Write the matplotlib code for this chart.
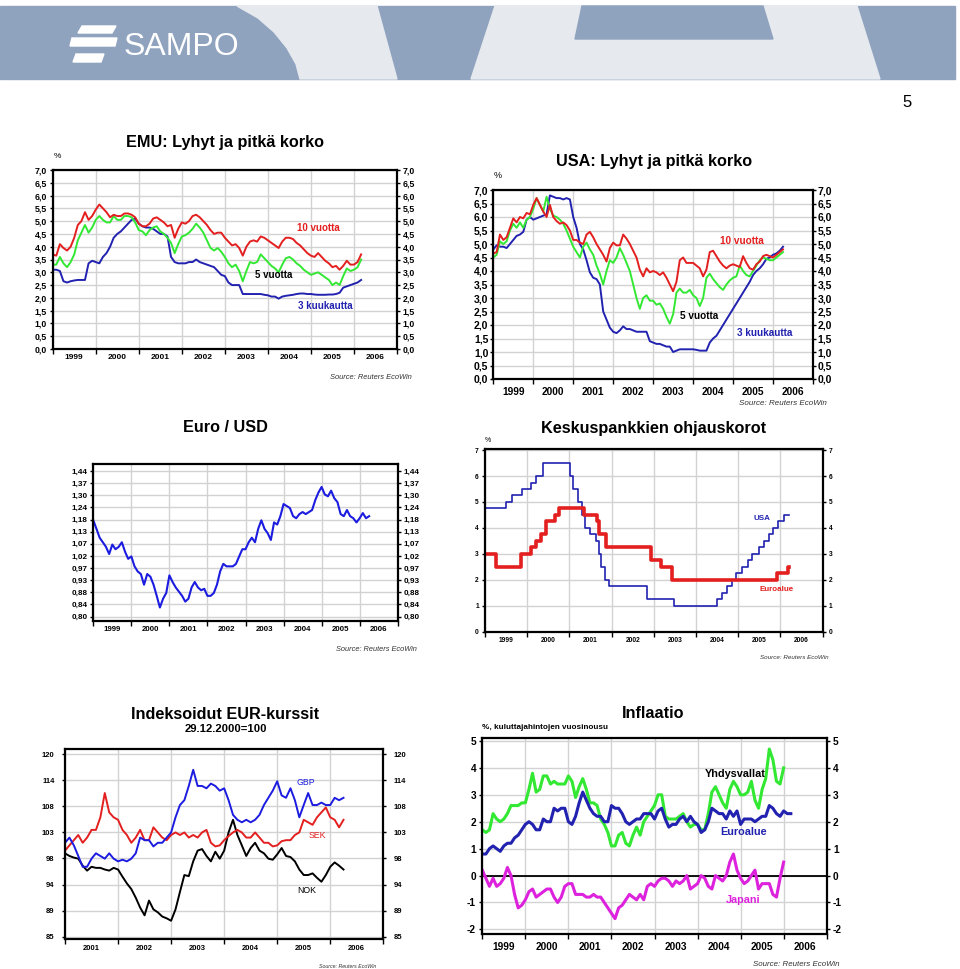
import datetime as dt
import numpy as np
import matplotlib
matplotlib.use("Agg")
import matplotlib.pyplot as plt
from matplotlib.patches import Polygon, Rectangle
from matplotlib.ticker import FixedLocator, FixedFormatter, NullLocator

plt.rcParams['font.family'] = ['Liberation Sans', 'DejaVu Sans']
plt.rcParams['font.weight'] = 'bold'

# ------------------------------------------------------------------ data
# EMU rates, monthly from Jan 1999 (%)
emu_10y = [3.7, 3.65, 4.1, 3.95, 3.85, 4.0, 4.35, 4.85, 5.0, 5.35, 5.05, 5.2,
           5.45, 5.65, 5.5, 5.35, 5.15, 5.25, 5.2, 5.2, 5.3, 5.3, 5.25, 5.15,
           4.9, 4.8, 4.8, 4.9, 5.1, 5.15, 5.05, 4.95, 4.8, 4.85, 4.35, 4.7,
           4.95, 4.9, 5.0, 5.2, 5.25, 5.15, 5.0, 4.85, 4.65, 4.5, 4.55, 4.55,
           4.35, 4.2, 4.05, 4.1, 3.95, 3.65, 4.0, 4.2, 4.25, 4.2, 4.4, 4.35,
           4.25, 4.15, 4.05, 3.95, 4.2, 4.35, 4.35, 4.3, 4.15, 4.05, 3.9, 3.75,
           3.65, 3.6, 3.75, 3.6, 3.45, 3.35, 3.2, 3.25, 3.1, 3.25, 3.45, 3.3,
           3.3, 3.4, 3.7]
emu_5y = [3.3, 3.3, 3.6, 3.35, 3.2, 3.4, 3.7, 4.25, 4.55, 4.85, 4.55, 4.75,
          5.05, 5.2, 5.05, 4.95, 4.95, 5.2, 5.05, 5.05, 5.2, 5.2, 5.15, 4.95,
          4.65, 4.6, 4.45, 4.65, 4.75, 4.8, 4.6, 4.5, 4.35, 4.15, 3.75, 4.1,
          4.4, 4.45, 4.55, 4.7, 4.9, 4.75, 4.55, 4.25, 3.95, 3.85, 3.95, 3.8,
          3.6, 3.35, 3.2, 3.3, 3.05, 2.65, 3.05, 3.4, 3.35, 3.4, 3.7, 3.55,
          3.4, 3.25, 3.15, 3.0, 3.3, 3.55, 3.6, 3.5, 3.35, 3.25, 3.1, 3.0,
          2.9, 2.95, 3.0, 2.9, 2.8, 2.7, 2.5, 2.6, 2.5, 2.85, 3.15, 3.05,
          3.1, 3.2, 3.5]
emu_3m = [3.1, 3.1, 3.05, 2.65, 2.6, 2.65, 2.68, 2.7, 2.7, 2.7, 3.35, 3.45,
          3.4, 3.35, 3.6, 3.75, 4.0, 4.35, 4.5, 4.6, 4.75, 4.9, 5.05, 5.1,
          4.9, 4.8, 4.75, 4.75, 4.7, 4.6, 4.5, 4.5, 4.4, 3.6, 3.4, 3.35,
          3.35, 3.35, 3.4, 3.4, 3.5, 3.4, 3.35, 3.3, 3.25, 3.2, 3.05, 2.9,
          2.85, 2.6, 2.5, 2.5, 2.5, 2.15, 2.15, 2.15, 2.15, 2.15, 2.15, 2.12,
          2.1, 2.05, 2.05, 1.97, 2.05, 2.08, 2.1, 2.12, 2.15, 2.17, 2.17, 2.15,
          2.15, 2.13, 2.12, 2.12, 2.12, 2.13, 2.13, 2.15, 2.2, 2.4, 2.45, 2.5,
          2.55, 2.6, 2.7]

# USA rates, monthly from Jan 1999 (%)
usa_10y = [4.65, 4.7, 5.35, 5.15, 5.25, 5.6, 5.95, 5.8, 6.0, 5.95, 6.15, 6.1,
           6.45, 6.7, 6.45, 6.2, 6.0, 6.45, 6.0, 5.85, 5.75, 5.8, 5.7, 5.5,
           5.15, 5.15, 5.05, 5.0, 5.35, 5.45, 5.25, 5.0, 4.8, 4.6, 4.35, 4.85,
           5.05, 4.95, 4.95, 5.35, 5.2, 5.0, 4.75, 4.5, 4.05, 3.8, 4.1, 3.95,
           4.0, 3.95, 3.85, 3.95, 3.75, 3.5, 3.25, 3.6, 4.4, 4.5, 4.3, 4.3,
           4.3, 4.2, 4.1, 3.8, 4.05, 4.7, 4.75, 4.55, 4.35, 4.2, 4.1, 4.2,
           4.25, 4.2, 4.15, 4.55, 4.3, 4.1, 4.05, 4.25, 4.35, 4.55, 4.6, 4.55,
           4.5, 4.6, 4.7, 4.8]
usa_5y = [4.5, 4.6, 5.1, 5.0, 5.1, 5.5, 5.75, 5.6, 5.8, 5.6, 5.9, 6.0,
          6.3, 6.7, 6.45, 6.2, 6.75, 6.3, 6.05, 6.0, 5.9, 5.75, 5.5, 5.2,
          4.9, 4.7, 4.5, 4.9, 5.05, 4.8, 4.6, 4.2, 3.9, 3.5, 4.0, 4.4,
          4.3, 4.5, 4.85, 4.6, 4.3, 4.0, 3.5, 3.0, 2.6, 3.0, 3.1, 2.9,
          2.9, 2.75, 2.8, 2.6, 2.3, 2.05, 2.4, 3.2, 3.35, 3.2, 3.2, 3.3,
          3.1, 3.0, 2.7, 3.0, 3.75, 3.9, 3.7, 3.55, 3.4, 3.3, 3.5, 3.65,
          3.75, 3.8, 4.2, 4.0, 3.85, 3.8, 4.0, 4.2, 4.4, 4.5, 4.45, 4.4,
          4.4, 4.5, 4.6, 4.7]
usa_3m = [4.8, 4.95, 4.9, 4.9, 4.85, 5.0, 5.15, 5.3, 5.35, 5.45, 5.9, 6.0,
          5.9, 5.95, 6.0, 6.05, 6.1, 6.8, 6.75, 6.7, 6.7, 6.65, 6.7, 6.65,
          6.0, 5.6, 5.0, 4.8, 4.4, 3.95, 3.75, 3.7, 3.5, 2.5, 2.2, 1.9,
          1.75, 1.7, 1.8, 1.95, 1.85, 1.85, 1.8, 1.75, 1.75, 1.75, 1.75, 1.4,
          1.35, 1.3, 1.3, 1.25, 1.2, 1.2, 1.0, 1.05, 1.1, 1.1, 1.1, 1.1,
          1.1, 1.08, 1.05, 1.05, 1.05, 1.35, 1.5, 1.6, 1.8, 2.0, 2.2, 2.4,
          2.6, 2.8, 3.0, 3.2, 3.4, 3.6, 3.85, 4.0, 4.1, 4.25, 4.45, 4.5,
          4.6, 4.65, 4.75, 4.9]

# EUR/USD, monthly from Jan 1999
eurusd = [1.18, 1.14, 1.10, 1.08, 1.06, 1.03, 1.07, 1.05, 1.06, 1.08, 1.04, 1.01,
          1.02, 0.98, 0.96, 0.95, 0.91, 0.95, 0.94, 0.91, 0.87, 0.83, 0.86, 0.88,
          0.945, 0.92, 0.90, 0.885, 0.87, 0.85, 0.86, 0.90, 0.92, 0.90, 0.89, 0.895,
          0.87, 0.87, 0.88, 0.91, 0.96, 0.99, 0.98, 0.98, 0.98, 0.99, 1.02, 1.05,
          1.05, 1.08, 1.10, 1.08, 1.14, 1.18, 1.14, 1.12, 1.09, 1.17, 1.16, 1.20,
          1.26, 1.25, 1.24, 1.20, 1.19, 1.21, 1.22, 1.21, 1.22, 1.23, 1.28, 1.32,
          1.35, 1.31, 1.30, 1.33, 1.29, 1.27, 1.21, 1.20, 1.23, 1.20, 1.19, 1.17,
          1.19, 1.215, 1.19, 1.20]
eurusd_ticklabels = ["0,80", "0,84", "0,88", "0,93", "0,97", "1,02", "1,07",
                     "1,13", "1,18", "1,24", "1,30", "1,37", "1,44"]

# Policy rates (change dates and new levels)
fed_dates = ["1999-01-01", "1999-06-30", "1999-08-24", "1999-11-16", "2000-02-02",
             "2000-03-21", "2000-05-16", "2001-01-03", "2001-01-31", "2001-03-20",
             "2001-04-18", "2001-05-15", "2001-06-27", "2001-08-21", "2001-09-17",
             "2001-10-02", "2001-11-06", "2001-12-11", "2002-11-06", "2003-06-25",
             "2004-06-30", "2004-08-10", "2004-09-21", "2004-11-10", "2004-12-14",
             "2005-02-02", "2005-03-22", "2005-05-03", "2005-06-30", "2005-08-09",
             "2005-09-20", "2005-11-01", "2005-12-13", "2006-01-31", "2006-03-17"]
fed_rate = [4.75, 5.0, 5.25, 5.5, 5.75, 6.0, 6.5, 6.0, 5.5, 5.0, 4.5, 4.0, 3.75,
            3.5, 3.0, 2.5, 2.0, 1.75, 1.25, 1.0, 1.25, 1.5, 1.75, 2.0, 2.25, 2.5,
            2.75, 3.0, 3.25, 3.5, 3.75, 4.0, 4.25, 4.5, 4.5]
ecb_dates = ["1999-01-01", "1999-04-09", "1999-11-05", "2000-02-04", "2000-03-17",
             "2000-04-28", "2000-06-09", "2000-09-01", "2000-10-06", "2001-05-11",
             "2001-08-31", "2001-09-18", "2001-11-09", "2002-12-06", "2003-03-07",
             "2003-06-06", "2005-12-06", "2006-03-08", "2006-03-17"]
ecb_rate = [3.0, 2.5, 3.0, 3.25, 3.5, 3.75, 4.25, 4.5, 4.75, 4.5, 4.25, 3.75, 3.25,
            2.75, 2.5, 2.0, 2.25, 2.5, 2.5]

# Indexed EUR exchange rates, monthly from Jan 2001 (29.12.2000 = 100)
gbp = [101.5, 102.5, 101, 99, 97, 97, 98.5, 99.5, 99, 98.5, 99.5, 98.5,
       98, 98.3, 98, 98.5, 99.5, 102.5, 102, 102, 100.8, 101.5, 101.5, 102.5,
       103.5, 106.5, 109, 110, 113, 116.5, 113, 113, 112.5, 113.5, 113, 112,
       112.5, 110, 107, 106, 105.5, 106, 105.5, 106, 107, 109, 110.5, 112,
       114, 111, 110.5, 112.5, 110, 106.5, 109, 111.5, 109, 109, 109.5, 109,
       109, 110.5, 110, 110.5]
sek = [100, 101, 102, 103, 101.5, 102.5, 104, 104, 106.5, 111.5, 107.5, 106.5,
       106, 104, 103, 101.5, 102.5, 104, 102, 102, 104.5, 103.5, 102.5, 102,
       103, 103.5, 103, 103.5, 102.5, 103, 102.5, 103.5, 104, 101.5, 100.8, 101,
       102, 102.8, 103.5, 104, 103.5, 102.5, 102.5, 103.5, 102.5, 101.5, 101.5, 100.8,
       101, 101.8, 102, 102, 103, 103.5, 106, 105.5, 105, 106.5, 107.5, 108.5,
       106.5, 106, 104.5, 106]
nok = [99.5, 99, 98.7, 98.5, 97.2, 96.3, 97, 96.8, 96.8, 96.5, 96.3, 96.8,
       96.5, 95.2, 94, 93, 91.5, 89.8, 88.5, 91, 89.5, 89, 88.3, 88,
       87.6, 89.5, 92.5, 95.5, 95.3, 98, 100, 100.3, 99, 98, 99.8, 98.5,
       100, 103.5, 106, 103, 101, 99, 100.5, 101.5, 100, 99.5, 98.5, 98.3,
       99.3, 100.5, 99, 98.8, 98, 96.5, 95.5, 95.5, 95.8, 95, 94.3, 95.5,
       97, 97.8, 97.2, 96.5]
index_ticklabels = ["85", "89", "94", "98", "103", "108", "114", "120"]

# Consumer price inflation, % y/y, monthly from Jan 1999
infl_us = [1.7, 1.6, 1.7, 2.3, 2.1, 2.0, 2.1, 2.3, 2.6, 2.6, 2.6, 2.7,
           2.7, 3.2, 3.8, 3.1, 3.2, 3.7, 3.7, 3.4, 3.5, 3.4, 3.4, 3.4,
           3.7, 3.5, 2.9, 3.3, 3.6, 3.2, 2.7, 2.7, 2.6, 2.1, 1.9, 1.6,
           1.1, 1.1, 1.5, 1.6, 1.2, 1.1, 1.5, 1.8, 1.5, 2.0, 2.2, 2.4,
           2.6, 3.0, 3.0, 2.2, 2.1, 2.1, 2.1, 2.2, 2.3, 2.0, 1.8, 1.9,
           1.9, 1.7, 1.7, 2.3, 3.1, 3.3, 3.0, 2.7, 2.5, 3.2, 3.5, 3.3,
           3.0, 3.0, 3.1, 3.5, 2.8, 2.5, 3.2, 3.6, 4.7, 4.3, 3.5, 3.4,
           4.0]
infl_ea = [0.8, 0.8, 1.0, 1.1, 1.0, 0.9, 1.1, 1.2, 1.2, 1.4, 1.5, 1.7,
           1.9, 2.0, 1.9, 1.7, 1.7, 2.1, 2.0, 2.0, 2.5, 2.4, 2.5, 2.5,
           2.0, 1.9, 2.2, 2.7, 3.1, 2.8, 2.5, 2.3, 2.2, 2.2, 2.0, 2.0,
           2.6, 2.5, 2.5, 2.3, 2.0, 1.9, 2.0, 2.1, 2.1, 2.3, 2.3, 2.3,
           2.1, 2.4, 2.5, 2.1, 1.8, 1.9, 1.9, 2.1, 2.2, 2.0, 2.2, 2.0,
           1.9, 1.6, 1.7, 2.0, 2.5, 2.4, 2.3, 2.3, 2.1, 2.4, 2.2, 2.4,
           1.9, 2.1, 2.1, 2.1, 2.0, 2.1, 2.2, 2.2, 2.6, 2.5, 2.3, 2.2,
           2.4, 2.3, 2.3]
infl_jp = [0.2, -0.1, -0.4, -0.1, -0.4, -0.3, -0.1, 0.3, 0.0, -0.7, -1.2, -1.1,
           -0.9, -0.6, -0.5, -0.8, -0.7, -0.6, -0.5, -0.5, -0.8, -1.0, -0.8, -0.4,
           -0.3, -0.3, -0.7, -0.7, -0.7, -0.8, -0.8, -0.7, -0.8, -0.8, -1.0, -1.2,
           -1.4, -1.6, -1.2, -1.1, -0.9, -0.7, -0.8, -0.9, -0.7, -0.9, -0.4, -0.3,
           -0.4, -0.2, -0.1, -0.1, -0.2, -0.4, -0.2, -0.3, -0.2, 0.0, -0.5, -0.4,
           -0.3, 0.0, -0.1, -0.4, -0.5, 0.0, -0.1, -0.2, 0.0, 0.5, 0.8, 0.2,
           -0.1, -0.3, -0.2, 0.0, 0.2, -0.5, -0.3, -0.3, -0.3, -0.7, -0.8, -0.1,
           0.5]

rate_ticklabels = ["0,0", "0,5", "1,0", "1,5", "2,0", "2,5", "3,0", "3,5",
                   "4,0", "4,5", "5,0", "5,5", "6,0", "6,5", "7,0"]

# ------------------------------------------------------------------ style
W, H = 960, 969
RED = '#e31f1f'
GREEN = '#33e833'
BLUE = '#2222b0'
BLUE2 = '#1c1ce0'
MAG = '#dd22dd'
GRID = '#d2d2d2'
SRC = 'Source: Reuters EcoWin'


def monthly(start, n):
    return start + np.arange(n) / 12.0


def dec_year(s):
    d = dt.date.fromisoformat(s)
    return d.year + (d - dt.date(d.year, 1, 1)).days / 365.0


fig = plt.figure(figsize=(W / 100, H / 100), dpi=100)
bg = fig.add_axes([0, 0, 1, 1], zorder=0)
bg.set_xlim(0, W)
bg.set_ylim(H, 0)
bg.axis('off')


def panel(l, t, r, b):
    ax = fig.add_axes([l / W, 1 - b / H, (r - l) / W, (b - t) / H], zorder=2)
    ax.set_facecolor('white')
    return ax


def style(ax, x0, x1, yticks, ylabels, xfs, yfs, xpad, ypad, ylim, log=False):
    if log:
        ax.set_yscale('log')
    ax.set_xlim(x0, x1)
    ax.set_ylim(*ylim)
    years = np.arange(x0, x1 + 1)
    ax.xaxis.set_major_locator(FixedLocator(years))
    ax.xaxis.set_major_formatter(FixedFormatter([''] * len(years)))
    ax.xaxis.set_minor_locator(FixedLocator(years[:-1] + 0.5))
    ax.xaxis.set_minor_formatter(FixedFormatter([str(y) for y in years[:-1]]))
    ax.tick_params(axis='x', which='major', length=3.5, width=1.0, direction='out',
                   color='black')
    ax.tick_params(axis='x', which='minor', length=0, labelsize=xfs, pad=xpad)
    ax.yaxis.set_major_locator(FixedLocator(yticks))
    ax.yaxis.set_major_formatter(FixedFormatter(ylabels))
    ax.yaxis.set_minor_locator(NullLocator())
    ax.tick_params(axis='y', which='major', left=True, right=True, labelleft=True,
                   labelright=True, length=2.5, width=1.0, direction='out',
                   labelsize=yfs, pad=ypad)
    ax.grid(True, axis='x', which='major', color=GRID, lw=1.0)
    ax.grid(True, axis='y', which='major', color=GRID, lw=1.0)
    ax.set_axisbelow(True)
    for s in ax.spines.values():
        s.set_linewidth(1.6)
        s.set_color('black')


# ------------------------------------------------------------------ banner
BB = '#8fa3bf'
LT = '#e6e9ee'
bg.add_patch(Rectangle((0, 6), 955, 73, color=BB, zorder=0))
bg.add_patch(Polygon([(237, 6), (258, 18), (274, 32), (287, 48), (296, 64), (300, 79),
                      (397, 79), (377, 6)], closed=True, color=LT, zorder=1))
bg.add_patch(Polygon([(495, 6), (471, 79), (880, 79), (857, 6)], closed=True,
                     color=LT, zorder=1))
bg.add_patch(Polygon([(582, 6), (763, 6), (773, 39), (575, 39)], closed=True,
                     color=BB, zorder=2))
for poly in ([(82, 26), (116, 26), (112, 33), (78, 33)],
             [(72, 38), (117, 38), (115, 46), (70, 46)],
             [(76, 54), (104, 54), (101, 62), (73, 62)]):
    bg.add_patch(Polygon(poly, closed=True, color='white', zorder=3))
bg.text(124, 55, 'SAMPO', color='white', fontsize=23, fontweight='normal',
        ha='left', va='baseline', zorder=4)
bg.text(907, 107, '5', fontsize=12, fontweight='normal', ha='center', va='baseline')

rate_ticks = np.arange(0, 7.01, 0.5)

# ------------------------------------------------------------------ EMU
ax = panel(52.7, 170, 397, 349)
style(ax, 1999, 2007, rate_ticks, rate_ticklabels, 6.0, 6.3, 3.5, 1.5, (0, 7))
ax.plot(monthly(1999, len(emu_3m)), emu_3m, color=BLUE, lw=1.4)
ax.plot(monthly(1999, len(emu_5y)), emu_5y, color=GREEN, lw=1.4)
ax.plot(monthly(1999, len(emu_10y)), emu_10y, color=RED, lw=1.4)
ax.text(2005.17, 4.72, '10 vuotta', color=RED, fontsize=7, ha='center', va='center')
ax.text(2004.13, 2.90, '5 vuotta', color='black', fontsize=7, ha='center', va='center')
ax.text(2005.34, 1.69, '3 kuukautta', color=BLUE, fontsize=7, ha='center', va='center')
bg.text(225.5, 147.3, 'EMU: Lyhyt ja pitkä korko', fontsize=11.7, ha='center', va='baseline')
bg.text(57.3, 156, '%', fontsize=6, fontweight='normal', ha='center', va='center')
bg.text(411.7, 377.7, SRC, fontsize=5.4, fontweight='normal', style='italic',
        color='#333333', ha='right', va='center')

# ------------------------------------------------------------------ USA
ax = panel(493.3, 190, 813, 379)
style(ax, 1999, 2007, rate_ticks, rate_ticklabels, 7.3, 7.5, 6.0, 1.0, (0, 7))
ax.plot(monthly(1999, len(usa_3m)), usa_3m, color=BLUE, lw=1.4)
ax.plot(monthly(1999, len(usa_5y)), usa_5y, color=GREEN, lw=1.4)
ax.plot(monthly(1999, len(usa_10y)), usa_10y, color=RED, lw=1.4)
ax.text(2005.22, 5.11, '10 vuotta', color=RED, fontsize=7.2, ha='center', va='center')
ax.text(2004.16, 2.35, '5 vuotta', color='black', fontsize=7.2, ha='center', va='center')
ax.text(2005.8, 1.70, '3 kuukautta', color=BLUE, fontsize=7.2, ha='center', va='center')
bg.text(654, 166, 'USA: Lyhyt ja pitkä korko', fontsize=11.7, ha='center', va='baseline')
bg.text(497.3, 175, '%', fontsize=6.5, fontweight='normal', ha='center', va='center')
bg.text(826.7, 403.3, SRC, fontsize=5.8, fontweight='normal', style='italic',
        color='#333333', ha='right', va='center')

# ------------------------------------------------------------------ EUR/USD
ax = panel(93.3, 464, 397.7, 620.7)
fx_ticks = 0.80 * (1.44 / 0.80) ** (np.arange(len(eurusd_ticklabels)) / 12.0)
style(ax, 1999, 2007, fx_ticks, eurusd_ticklabels, 5.7, 5.9, 4.0, 1.5,
      (0.787, 1.481), log=True)
ax.plot(monthly(1999, len(eurusd)), eurusd, color=BLUE2, lw=1.5)
bg.text(225.5, 432.3, 'Euro / USD', fontsize=11.7, ha='center', va='baseline')
bg.text(416.7, 649.3, SRC, fontsize=5.3, fontweight='normal', style='italic',
        color='#333333', ha='right', va='center')

# ------------------------------------------------------------------ policy rates
ax = panel(485, 449.3, 822.7, 631.7)
style(ax, 1999, 2007, np.arange(0, 8), [str(v) for v in range(8)], 4.8, 4.8, 4.0, 2.0,
      (0, 7.03))
ax.plot([dec_year(d) for d in fed_dates], fed_rate, color=BLUE, lw=1.2,
        drawstyle='steps-post')
ax.plot([dec_year(d) for d in ecb_dates], ecb_rate, color=RED, lw=2.6,
        drawstyle='steps-post')
ax.text(2005.56, 4.36, 'USA', color=BLUE, fontsize=5.8, ha='center', va='center')
ax.text(2005.91, 1.62, 'Euroalue', color=RED, fontsize=5.8, ha='center', va='center')
bg.text(653.8, 432.7, 'Keskuspankkien ohjauskorot', fontsize=11.7, ha='center',
        va='baseline')
bg.text(488.3, 441, '%', fontsize=5, fontweight='normal', ha='center', va='center')
bg.text(828.3, 657.3, SRC, fontsize=4.5, fontweight='normal', style='italic',
        color='#333333', ha='right', va='center')

# ------------------------------------------------------------------ indexed EUR
ax = panel(65, 749.3, 383.3, 939)
idx_ticks = 85 * (120 / 85) ** (np.arange(len(index_ticklabels)) / 7.0)
style(ax, 2001, 2007, idx_ticks, index_ticklabels, 5.5, 5.5, 4.0, 5.0,
      (84.63, 121.1), log=True)
ax.plot(monthly(2001, len(nok)), nok, color='black', lw=1.4)
ax.plot(monthly(2001, len(sek)), sek, color=RED, lw=1.4)
ax.plot(monthly(2001, len(gbp)), gbp, color=BLUE2, lw=1.4)
ax.text(2005.53, 113.7, 'GBP', color=BLUE2, fontsize=6.3, fontweight='normal',
        ha='center', va='center')
ax.text(2005.76, 102.9, 'SEK', color=RED, fontsize=6.3, fontweight='normal',
        ha='center', va='center')
ax.text(2005.56, 92.7, 'NOK', color='black', fontsize=6.3, fontweight='normal',
        ha='center', va='center')
bg.text(225, 719, 'Indeksoidut EUR-kurssit', fontsize=11.7, ha='center', va='baseline')
bg.text(225.5, 731.7, '29.12.2000=100', fontsize=8.1, ha='center', va='baseline')
bg.text(376.7, 966, SRC, fontsize=3.8, fontweight='normal', style='italic',
        color='#333333', ha='right', va='center')

# ------------------------------------------------------------------ inflation
ax = panel(482.3, 737.7, 826.7, 934)
style(ax, 1999, 2007, np.arange(-2, 6), [str(v) for v in range(-2, 6)], 7.3, 7.3,
      6.0, 2.0, (-2.17, 5.12))
ax.axhline(0, color='black', lw=1.3, zorder=1.5)
ax.plot(monthly(1999, len(infl_us)), infl_us, color=GREEN, lw=2.2)
ax.plot(monthly(1999, len(infl_ea)), infl_ea, color=BLUE, lw=2.2)
ax.plot(monthly(1999, len(infl_jp)), infl_jp, color=MAG, lw=2.2)
ax.text(2004.87, 3.77, 'Yhdysvallat', color='black', fontsize=7.8, ha='center', va='center')
ax.text(2005.08, 1.61, 'Euroalue', color=BLUE, fontsize=7.8, ha='center', va='center')
ax.text(2005.05, -0.91, 'Japani', color=MAG, fontsize=7.8, ha='center', va='center')
bg.text(653.5, 718.3, 'Inflaatio', fontsize=11.7, ha='center', va='baseline')
bg.text(482.3, 727.3, '%, kuluttajahintojen vuosinousu', fontsize=5.9, ha='left',
        va='center')
bg.text(839.3, 965, SRC, fontsize=5.7, fontweight='normal', style='italic',
        color='#333333', ha='right', va='center')

fig.savefig('out.png', dpi=100)
